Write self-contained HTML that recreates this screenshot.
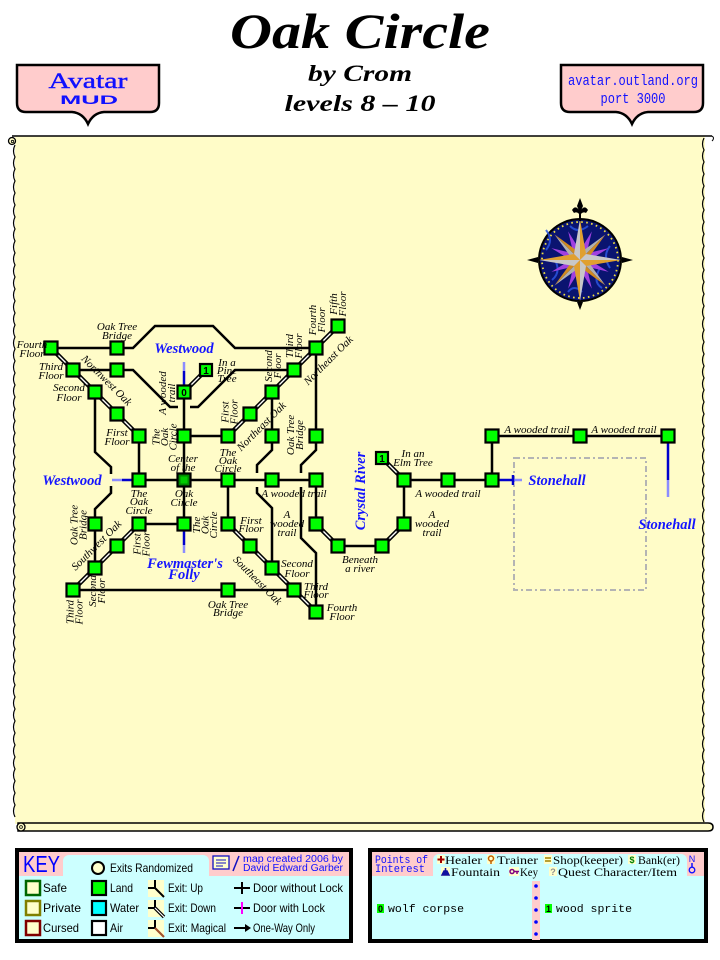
<!DOCTYPE html>
<html><head><meta charset="utf-8"><title>Oak Circle</title><style>
html,body{margin:0;padding:0;background:#fff;}
svg{display:block}
.l{font-family:"Liberation Serif",serif;font-style:italic;font-size:11px;fill:#000}
.b{font-family:"Liberation Serif",serif;font-style:italic;font-weight:bold;font-size:14.5px;fill:#1414FF}
.k{font-family:"Liberation Sans",sans-serif;font-size:12px;fill:#000}
.m{font-family:"Liberation Mono",monospace;font-size:11px;fill:#000}
</style></head><body>
<svg width="720" height="960" viewBox="0 0 720 960" xmlns="http://www.w3.org/2000/svg">
<rect x="0" y="0" width="720" height="960" fill="#fff"/>
<!-- Header -->
<text x="360" y="48" text-anchor="middle" font-family="Liberation Serif,serif" font-style="italic" font-weight="bold" font-size="50" textLength="260" lengthAdjust="spacingAndGlyphs">Oak Circle</text>
<text x="360" y="81" text-anchor="middle" font-family="Liberation Serif,serif" font-style="italic" font-weight="bold" font-size="23" textLength="104" lengthAdjust="spacingAndGlyphs">by Crom</text>
<text x="360" y="111" text-anchor="middle" font-family="Liberation Serif,serif" font-style="italic" font-weight="bold" font-size="23" textLength="151" lengthAdjust="spacingAndGlyphs">levels 8 – 10</text>

<path d="M17,65 H159 V103 Q159,112 150,112 H104 Q93,113 88,124 Q83,113 72,112 H26 Q17,112 17,103 Z" fill="#FFCCCC" stroke="#000" stroke-width="2.5"/>
<text x="88" y="88" text-anchor="middle" font-family="Liberation Serif,serif" font-size="22" fill="#1010FF" stroke="#1010FF" stroke-width="0.4" textLength="79" lengthAdjust="spacingAndGlyphs">Avatar</text>
<text x="89" y="104" text-anchor="middle" font-family="Liberation Sans,sans-serif" font-weight="bold" font-size="12" fill="#1010FF" textLength="58" lengthAdjust="spacingAndGlyphs">MUD</text>

<path d="M561,65 H703 V103 Q703,112 694,112 H648 Q637,113 632,124 Q627,113 616,112 H570 Q561,112 561,103 Z" fill="#FFCCCC" stroke="#000" stroke-width="2.5"/>
<text x="633" y="85" text-anchor="middle" font-family="Liberation Mono,monospace" font-size="15" fill="#1010FF" textLength="130" lengthAdjust="spacingAndGlyphs">avatar.outland.org</text>
<text x="633" y="103" text-anchor="middle" font-family="Liberation Mono,monospace" font-size="15" fill="#1010FF" textLength="65" lengthAdjust="spacingAndGlyphs">port 3000</text>

<!-- Parchment -->
<rect x="15" y="136" width="690" height="688" fill="#FFFCC8"/>
<path d="M12,136 H712" stroke="#000" stroke-width="1.5" fill="none"/>
<path d="M712,136 q3,2 0,5" stroke="#000" stroke-width="1" fill="none"/>
<circle cx="12" cy="141" r="3.5" fill="#FFFCC8" stroke="#000" stroke-width="1.3"/>
<circle cx="12.5" cy="141.5" r="1.2" fill="none" stroke="#000" stroke-width="0.8"/>
<path d="M15,145 q-3,6 0,12 q-3,6 0,12 q-3,6 0,12 q-3,6 0,12 q-3,6 0,12 q-3,6 0,12 q-3,6 0,12 q-3,6 0,12 q-3,6 0,12 q-3,6 0,12 q-3,6 0,12 q-3,6 0,12 q-3,6 0,12 q-3,6 0,12 q-3,6 0,12 q-3,6 0,12 q-3,6 0,12 q-3,6 0,12 q-3,6 0,12 q-3,6 0,12 q-3,6 0,12 q-3,6 0,12 q-3,6 0,12 q-3,6 0,12 q-3,6 0,12 q-3,6 0,12 q-3,6 0,12 q-3,6 0,12 q-3,6 0,12 q-3,6 0,12 q-3,6 0,12 q-3,6 0,12 q-3,6 0,12 q-3,6 0,12 q-3,6 0,12 q-3,6 0,12 q-3,6 0,12 q-3,6 0,12 q-3,6 0,12 q-3,6 0,12 q-3,6 0,12 q-3,6 0,12 q-3,6 0,12 q-3,6 0,12 q-3,6 0,12 q-3,6 0,12 q-3,6 0,12 q-3,6 0,12 q-3,6 0,12 q-3,6 0,12 q-3,6 0,12 q-3,6 0,12 q-3,6 0,12 q-3,6 0,12 q-3,6 0,12 q-3,6 0,12" stroke="#000" stroke-width="1.2" fill="none"/>
<path d="M704,138 q-3,6 0,12 q-3,6 0,12 q-3,6 0,12 q-3,6 0,12 q-3,6 0,12 q-3,6 0,12 q-3,6 0,12 q-3,6 0,12 q-3,6 0,12 q-3,6 0,12 q-3,6 0,12 q-3,6 0,12 q-3,6 0,12 q-3,6 0,12 q-3,6 0,12 q-3,6 0,12 q-3,6 0,12 q-3,6 0,12 q-3,6 0,12 q-3,6 0,12 q-3,6 0,12 q-3,6 0,12 q-3,6 0,12 q-3,6 0,12 q-3,6 0,12 q-3,6 0,12 q-3,6 0,12 q-3,6 0,12 q-3,6 0,12 q-3,6 0,12 q-3,6 0,12 q-3,6 0,12 q-3,6 0,12 q-3,6 0,12 q-3,6 0,12 q-3,6 0,12 q-3,6 0,12 q-3,6 0,12 q-3,6 0,12 q-3,6 0,12 q-3,6 0,12 q-3,6 0,12 q-3,6 0,12 q-3,6 0,12 q-3,6 0,12 q-3,6 0,12 q-3,6 0,12 q-3,6 0,12 q-3,6 0,12 q-3,6 0,12 q-3,6 0,12 q-3,6 0,12 q-3,6 0,12 q-3,6 0,12 q-3,6 0,12 q-3,6 0,12 q-3,6 0,12" stroke="#000" stroke-width="1.2" fill="none"/>
<path d="M18,823 H708 Q713,823 713,827 Q713,831 708,831 H18 Z" fill="#FFFCC8" stroke="#000" stroke-width="1.5"/>
<circle cx="21" cy="827" r="4" fill="#FFFCC8" stroke="#000" stroke-width="1.3"/>
<circle cx="21" cy="827" r="1.4" fill="none" stroke="#000" stroke-width="0.8"/>

<!-- Compass -->
<g transform="translate(580,260)">
<circle r="42" fill="#000"/>
<circle r="40" fill="#0A1470"/>
<g fill="none" stroke="#2A55E0" stroke-width="2" opacity="0.85">
<path d="M-34,-10 q8,-10 0,-20 M-28,20 q10,-8 2,-22 M30,-14 q-8,10 0,22 M22,28 q-10,-6 -2,-20 M-12,32 q6,-8 14,0 M-10,-34 q8,8 18,0"/>
</g>
<circle r="38" fill="none" stroke="#F0E040" stroke-width="1.8" stroke-dasharray="1.6 3.4"/>
<g>
<g fill="#A040E0">
<polygon points="0,-31 4,-6 0,0 -4,-6" transform="rotate(22.5)"/>
<polygon points="0,-31 4,-6 0,0 -4,-6" transform="rotate(67.5)"/>
<polygon points="0,-31 4,-6 0,0 -4,-6" transform="rotate(112.5)"/>
<polygon points="0,-31 4,-6 0,0 -4,-6" transform="rotate(157.5)"/>
<polygon points="0,-31 4,-6 0,0 -4,-6" transform="rotate(202.5)"/>
<polygon points="0,-31 4,-6 0,0 -4,-6" transform="rotate(247.5)"/>
<polygon points="0,-31 4,-6 0,0 -4,-6" transform="rotate(292.5)"/>
<polygon points="0,-31 4,-6 0,0 -4,-6" transform="rotate(337.5)"/>
</g>
<g transform="rotate(45)">
<polygon points="0,-36 -5,-5 0,0" fill="#B0B0B0"/><polygon points="0,-36 5,-5 0,0" fill="#D08A20"/>
<polygon points="0,-36 -5,-5 0,0" fill="#B0B0B0" transform="rotate(90)"/><polygon points="0,-36 5,-5 0,0" fill="#D08A20" transform="rotate(90)"/>
<polygon points="0,-36 -5,-5 0,0" fill="#B0B0B0" transform="rotate(180)"/><polygon points="0,-36 5,-5 0,0" fill="#D08A20" transform="rotate(180)"/>
<polygon points="0,-36 -5,-5 0,0" fill="#B0B0B0" transform="rotate(270)"/><polygon points="0,-36 5,-5 0,0" fill="#D08A20" transform="rotate(270)"/>
</g>
<g>
<polygon points="0,-41 -6,-6 0,0" fill="#C8C8C8"/><polygon points="0,-41 6,-6 0,0" fill="#E0A030"/>
<polygon points="0,-41 -6,-6 0,0" fill="#C8C8C8" transform="rotate(90)"/><polygon points="0,-41 6,-6 0,0" fill="#E0A030" transform="rotate(90)"/>
<polygon points="0,-41 -6,-6 0,0" fill="#C8C8C8" transform="rotate(180)"/><polygon points="0,-41 6,-6 0,0" fill="#E0A030" transform="rotate(180)"/>
<polygon points="0,-41 -6,-6 0,0" fill="#C8C8C8" transform="rotate(270)"/><polygon points="0,-41 6,-6 0,0" fill="#E0A030" transform="rotate(270)"/>
</g>
</g>
<path d="M0,-62 L3,-54 L0,-47 L-3,-54 Z M-1,-47 h2 v8 h-2 Z M-8,-50 q4,-6 8,2 q4,-8 8,-2 l-2,3 q-3,-2 -6,2 q-3,-4 -6,-2 Z" fill="#000"/>
<path d="M42,-3 L53,0 L42,3 Z M-42,-3 L-53,0 L-42,3 Z M-3,42 L0,50 L3,42 Z" fill="#000"/>
</g>

<!-- Dashed area -->
<rect x="514" y="458" width="132" height="132" fill="none" stroke="#B4B4B4" stroke-width="2" stroke-dasharray="6 3 2 3"/>

<!-- Exit stubs -->
<g stroke-width="2.5" fill="none">
<path d="M184,385 V371" stroke="#0000CC"/><path d="M184,371 V362" stroke="#8C8CFF"/>
<path d="M132,480 H122" stroke="#0000CC"/><path d="M122,480 H112" stroke="#8C8CFF"/>
<path d="M184,531 V545" stroke="#0000CC"/><path d="M184,545 V553" stroke="#8C8CFF"/>
<path d="M499,480 H513" stroke="#0000CC"/><path d="M513,480 H522" stroke="#8C8CFF"/><path d="M513,475 V485" stroke="#0000CC"/>
<path d="M668,443 V480" stroke="#0000CC"/><path d="M668,480 V497" stroke="#8C8CFF"/>
</g>

<!-- Solid connectors -->
<g fill="none" stroke="#000" stroke-width="2.5" stroke-linejoin="miter">
<path d="M51,348 H133 L155,326 H213 L235,348 H316"/>
<path d="M73,370 H133 L170,407 H178"/>
<path d="M190,407 H198 L235,370 H294"/>
<path d="M95,392 V452 L111,467 V474"/>
<path d="M111,486 V493 L95,509 V568"/>
<path d="M139,436 V480"/>
<path d="M184,392 V524"/>
<path d="M184,436 H228"/>
<path d="M272,392 V450 L257,465 V473"/>
<path d="M257,487 V493 L272,508 V568"/>
<path d="M316,348 V450 L301,465 V473"/>
<path d="M301,487 V538 L316,553 V612"/>
<path d="M139,480 H316"/>
<path d="M228,480 V524"/>
<path d="M139,524 H184"/>
<path d="M73,590 H294"/>
<path d="M316,480 V524"/>
<path d="M338,546 H382"/>
<path d="M404,524 V480 H492 V436 H668"/>
</g>

<!-- Up/Down connectors -->
<g fill="none" stroke="#000" stroke-width="4.5">
<path d="M51,348 L139,436"/>
<path d="M228,436 L338,326"/>
<path d="M184,392 L206,370"/>
<path d="M139,524 L73,590"/>
<path d="M228,524 L316,612"/>
<path d="M316,524 L338,546"/>
<path d="M382,546 L404,524"/>
<path d="M404,480 L382,458"/>
</g>
<g fill="none" stroke="#fff" stroke-width="1.4">
<path d="M51,348 L139,436"/>
<path d="M228,436 L338,326"/>
<path d="M184,392 L206,370"/>
<path d="M139,524 L73,590"/>
<path d="M228,524 L316,612"/>
<path d="M316,524 L338,546"/>
<path d="M382,546 L404,524"/>
<path d="M404,480 L382,458"/>
</g>

<!-- Nodes -->
<g fill="#00FF00" stroke="#000" stroke-width="2.2">
<rect x="44.5" y="341.5" width="13" height="13"/>
<rect x="110.5" y="341.5" width="13" height="13"/>
<rect x="66.5" y="363.5" width="13" height="13"/>
<rect x="110.5" y="363.5" width="13" height="13"/>
<rect x="88.5" y="385.5" width="13" height="13"/>
<rect x="110.5" y="407.5" width="13" height="13"/>
<rect x="132.5" y="429.5" width="13" height="13"/>
<rect x="177.5" y="429.5" width="13" height="13"/>
<rect x="221.5" y="429.5" width="13" height="13"/>
<rect x="243.5" y="407.5" width="13" height="13"/>
<rect x="265.5" y="385.5" width="13" height="13"/>
<rect x="287.5" y="363.5" width="13" height="13"/>
<rect x="309.5" y="341.5" width="13" height="13"/>
<rect x="331.5" y="319.5" width="13" height="13"/>
<rect x="265.5" y="429.5" width="13" height="13"/>
<rect x="309.5" y="429.5" width="13" height="13"/>
<rect x="132.5" y="473.5" width="13" height="13"/>
<rect x="221.5" y="473.5" width="13" height="13"/>
<rect x="265.5" y="473.5" width="13" height="13"/>
<rect x="309.5" y="473.5" width="13" height="13"/>
<rect x="88.5" y="517.5" width="13" height="13"/>
<rect x="132.5" y="517.5" width="13" height="13"/>
<rect x="177.5" y="517.5" width="13" height="13"/>
<rect x="221.5" y="517.5" width="13" height="13"/>
<rect x="309.5" y="517.5" width="13" height="13"/>
<rect x="110.5" y="539.5" width="13" height="13"/>
<rect x="243.5" y="539.5" width="13" height="13"/>
<rect x="331.5" y="539.5" width="13" height="13"/>
<rect x="375.5" y="539.5" width="13" height="13"/>
<rect x="397.5" y="517.5" width="13" height="13"/>
<rect x="88.5" y="561.5" width="13" height="13"/>
<rect x="265.5" y="561.5" width="13" height="13"/>
<rect x="66.5" y="583.5" width="13" height="13"/>
<rect x="221.5" y="583.5" width="13" height="13"/>
<rect x="287.5" y="583.5" width="13" height="13"/>
<rect x="309.5" y="605.5" width="13" height="13"/>
<rect x="397.5" y="473.5" width="13" height="13"/>
<rect x="441.5" y="473.5" width="13" height="13"/>
<rect x="485.5" y="473.5" width="13" height="13"/>
<rect x="485.5" y="429.5" width="13" height="13"/>
<rect x="573.5" y="429.5" width="13" height="13"/>
<rect x="661.5" y="429.5" width="13" height="13"/>
<rect x="177.5" y="385.5" width="13" height="13"/>
<rect x="200" y="364" width="12" height="12"/>
<rect x="376" y="452" width="12" height="12"/>
</g>
<rect x="177.5" y="473.5" width="13" height="13" fill="#008A00" stroke="#000" stroke-width="2.2"/>
<rect x="180.5" y="476.5" width="7" height="7" fill="#00CC00"/>
<g font-family="Liberation Sans,sans-serif" font-weight="bold" font-size="10" text-anchor="middle" fill="#000">
<text x="184" y="396">0</text>
<text x="206" y="374">1</text>
<text x="382" y="462">1</text>
</g>

<!-- Labels -->
<g class="l" text-anchor="middle">
<text x="32" y="348">Fourth</text><text x="32" y="357">Floor</text>
<text x="117" y="330">Oak Tree</text><text x="117" y="339">Bridge</text>
<text x="51" y="370">Third</text><text x="51" y="379">Floor</text>
<text x="69" y="391">Second</text><text x="69" y="401">Floor</text>
<text x="117" y="436">First</text><text x="117" y="445">Floor</text>
<text x="227" y="366">In a</text><text x="227" y="374">Pine</text><text x="227" y="382">Tree</text>
<text x="183" y="462">Center</text><text x="183" y="471">of the</text>
<text x="184" y="497">Oak</text><text x="184" y="506">Circle</text>
<text x="139" y="497">The</text><text x="139" y="505">Oak</text><text x="139" y="514">Circle</text>
<text x="228" y="456">The</text><text x="228" y="464">Oak</text><text x="228" y="472">Circle</text>
<text x="294" y="497">A wooded trail</text>
<text x="251" y="524">First</text><text x="251" y="532">Floor</text>
<text x="287" y="518">A</text><text x="287" y="527">wooded</text><text x="287" y="536">trail</text>
<text x="228" y="608">Oak Tree</text><text x="228" y="616">Bridge</text>
<text x="297" y="567">Second</text><text x="297" y="577">Floor</text>
<text x="316" y="590">Third</text><text x="316" y="598">Floor</text>
<text x="342" y="611">Fourth</text><text x="342" y="620">Floor</text>
<text x="360" y="563">Beneath</text><text x="360" y="572">a river</text>
<text x="413" y="457">In an</text><text x="413" y="466">Elm Tree</text>
<text x="448" y="497">A wooded trail</text>
<text x="432" y="518">A</text><text x="432" y="527">wooded</text><text x="432" y="536">trail</text>
<text x="537" y="433">A wooded trail</text>
<text x="624" y="433">A wooded trail</text>

<g transform="translate(166.5,393) rotate(-90)"><text y="-0.5">A wooded</text><text y="8.5">trail</text></g>
<g transform="translate(164,437) rotate(-90)"><text y="-4.5">The</text><text y="4">Oak</text><text y="12.5">Circle</text></g>
<g transform="translate(229,412) rotate(-90)"><text y="-0.5">First</text><text y="8.5">Floor</text></g>
<g transform="translate(272.5,366) rotate(-90)"><text y="-0.5">Second</text><text y="8.5">Floor</text></g>
<g transform="translate(293.5,346) rotate(-90)"><text y="-0.5">Third</text><text y="8.5">Floor</text></g>
<g transform="translate(316.5,320) rotate(-90)"><text y="-0.5">Fourth</text><text y="8.5">Floor</text></g>
<g transform="translate(337.5,304) rotate(-90)"><text y="-0.5">Fifth</text><text y="8.5">Floor</text></g>
<g transform="translate(294.5,435) rotate(-90)"><text y="-0.5">Oak Tree</text><text y="8.5">Bridge</text></g>
<g transform="translate(204.5,525) rotate(-90)"><text y="-4.5">The</text><text y="4">Oak</text><text y="12.5">Circle</text></g>
<g transform="translate(141,544) rotate(-90)"><text y="-0.5">First</text><text y="8.5">Floor</text></g>
<g transform="translate(78,525) rotate(-90)"><text y="-0.5">Oak Tree</text><text y="8.5">Bridge</text></g>
<g transform="translate(96.5,591) rotate(-90)"><text y="-0.5">Second</text><text y="8.5">Floor</text></g>
<g transform="translate(74,612) rotate(-90)"><text y="-0.5">Third</text><text y="8.5">Floor</text></g>

<g transform="translate(107,380) rotate(45)"><text y="4">Northwest Oak</text></g>
<g transform="translate(258,580) rotate(45)"><text y="4">Southeast Oak</text></g>
<g transform="translate(328,360) rotate(-45)"><text y="4">Northeast Oak</text></g>
<g transform="translate(261,426) rotate(-45)"><text y="4">Northeast Oak</text></g>
<g transform="translate(96,545) rotate(-45)"><text y="4">Southwest Oak</text></g>
</g>

<g class="b" text-anchor="middle">
<text x="184" y="353">Westwood</text>
<text x="72" y="485">Westwood</text>
<text x="185" y="568">Fewmaster's</text>
<text x="184" y="579">Folly</text>
<g transform="translate(360,491) rotate(-90)"><text y="5">Crystal River</text></g>
<text x="557" y="485">Stonehall</text>
<text x="667" y="529">Stonehall</text>
</g>

<!-- KEY panel -->
<rect x="17" y="850" width="334" height="91" fill="#CCFFFF" stroke="#000" stroke-width="4"/>
<rect x="19" y="852" width="330" height="24" fill="#FFCCCC"/>
<rect x="63" y="855" width="146" height="30" rx="6" fill="#CCFFFF"/>
<text x="23" y="872" font-family="Liberation Sans,sans-serif" font-size="23" fill="#0000FF" textLength="37" lengthAdjust="spacingAndGlyphs">KEY</text>
<circle cx="98" cy="868" r="6" fill="#FFFFCC" stroke="#000" stroke-width="2"/>
<text class="k" x="110" y="872" textLength="83" lengthAdjust="spacingAndGlyphs">Exits Randomized</text>
<rect x="213" y="856" width="16" height="13" fill="#FFFFCC" stroke="#1010C0" stroke-width="1.3"/>
<path d="M216,860 h10 M216,863 h10 M216,866 h7" stroke="#1010C0" stroke-width="1"/>
<path d="M233,871 L239,856" stroke="#1010C0" stroke-width="1.5"/>
<text class="k" x="243" y="862" style="fill:#1010FF;font-size:10px" textLength="100" lengthAdjust="spacingAndGlyphs">map created 2006 by</text>
<text class="k" x="243" y="871" style="fill:#1010FF;font-size:10px" textLength="100" lengthAdjust="spacingAndGlyphs">David Edward Garber</text>

<rect x="26" y="881" width="14" height="14" fill="#FFFFCC" stroke="#006600" stroke-width="2.5"/>
<rect x="26" y="901" width="14" height="14" fill="#FFFFCC" stroke="#808000" stroke-width="2.5"/>
<rect x="26" y="921" width="14" height="14" fill="#FFFFCC" stroke="#800000" stroke-width="2.5"/>
<text class="k" x="43" y="892" textLength="24" lengthAdjust="spacingAndGlyphs">Safe</text>
<text class="k" x="43" y="912" textLength="38" lengthAdjust="spacingAndGlyphs">Private</text>
<text class="k" x="43" y="932" textLength="36" lengthAdjust="spacingAndGlyphs">Cursed</text>

<rect x="92" y="881" width="14" height="14" fill="#00FF00" stroke="#000" stroke-width="2.2"/>
<rect x="92" y="901" width="14" height="14" fill="#00FFFF" stroke="#000" stroke-width="2.2"/>
<rect x="92" y="921" width="14" height="14" fill="#FFFFFF" stroke="#000" stroke-width="2.2"/>
<text class="k" x="110" y="892" textLength="23" lengthAdjust="spacingAndGlyphs">Land</text>
<text class="k" x="110" y="912" textLength="29" lengthAdjust="spacingAndGlyphs">Water</text>
<text class="k" x="110" y="932" textLength="13" lengthAdjust="spacingAndGlyphs">Air</text>

<rect x="148" y="880" width="16" height="17" fill="#FFFFCC"/>
<rect x="148" y="900" width="16" height="17" fill="#FFFFCC"/>
<rect x="148" y="920" width="16" height="17" fill="#FFFFCC"/>
<g fill="none" stroke="#000" stroke-width="2">
<path d="M155,880 V888 H148"/><path d="M155,900 V908 H148"/><path d="M155,920 V928 H148"/>
<path d="M155,888 L164,897"/>
<path d="M155,908 L164,917" stroke-width="3.5"/>
</g>
<path d="M155,908 L164,917" stroke="#fff" stroke-width="1.2"/>
<path d="M155,928 L164,937" stroke="#A0522D" stroke-width="2.2"/>
<text class="k" x="168" y="892" textLength="35" lengthAdjust="spacingAndGlyphs">Exit: Up</text>
<text class="k" x="168" y="912" textLength="48" lengthAdjust="spacingAndGlyphs">Exit: Down</text>
<text class="k" x="168" y="932" textLength="58" lengthAdjust="spacingAndGlyphs">Exit: Magical</text>

<g stroke-width="2" fill="none">
<path d="M234,888 H250 M242,882 V894" stroke="#000"/>
<path d="M234,908 H250" stroke="#000"/><path d="M242,902 V914" stroke="#FF00FF"/>
<path d="M234,928 H248" stroke="#000"/>
</g>
<path d="M251,928 L245,924 L245,932 Z" fill="#000"/>
<text class="k" x="253" y="892" textLength="90" lengthAdjust="spacingAndGlyphs">Door without Lock</text>
<text class="k" x="253" y="912" textLength="72" lengthAdjust="spacingAndGlyphs">Door with Lock</text>
<text class="k" x="253" y="932" textLength="62" lengthAdjust="spacingAndGlyphs">One-Way Only</text>

<!-- POI panel -->
<rect x="370" y="850" width="336" height="91" fill="#CCFFFF" stroke="#000" stroke-width="4"/>
<rect x="372" y="852" width="332" height="24" fill="#FFCCCC"/>
<rect x="433" y="854" width="254" height="30" rx="6" fill="#CCFFFF"/>
<text class="m" x="375" y="863" style="fill:#1010FF" font-size="10.5" textLength="53" lengthAdjust="spacingAndGlyphs">Points of</text>
<text class="m" x="375" y="872" style="fill:#1010FF" font-size="10.5" textLength="50" lengthAdjust="spacingAndGlyphs">Interest</text>
<text x="692" y="862" text-anchor="middle" font-family="Liberation Sans,sans-serif" font-size="9" fill="#1010FF">N</text>
<circle cx="692" cy="870" r="2.8" fill="none" stroke="#1010FF" stroke-width="1.3"/>
<path d="M692,863 V867" stroke="#1010FF" stroke-width="1.5"/>

<g font-family="Liberation Serif,serif" font-size="11.5">
<rect x="437" y="855" width="8" height="9" fill="#FFFFCC"/>
<path d="M441,856 V863 M437.5,859.5 H444.5" stroke="#A00000" stroke-width="2"/>
<text x="445" y="864" textLength="37" lengthAdjust="spacingAndGlyphs">Healer</text>
<rect x="487" y="855" width="8" height="9" fill="#FFFFCC"/>
<circle cx="491" cy="858.5" r="2.5" fill="none" stroke="#C06000" stroke-width="1.5"/><path d="M491,861 V864" stroke="#C06000" stroke-width="1.5"/>
<text x="497" y="864" textLength="41" lengthAdjust="spacingAndGlyphs">Trainer</text>
<rect x="544" y="855" width="8" height="9" fill="#FFFFCC"/>
<path d="M545,858 H551 M545,861 H551" stroke="#A08000" stroke-width="1.5"/>
<text x="553" y="864" textLength="70" lengthAdjust="spacingAndGlyphs">Shop(keeper)</text>
<rect x="628" y="855" width="8" height="9" fill="#FFFFCC"/>
<text x="632" y="863" text-anchor="middle" font-family="Liberation Sans,sans-serif" font-weight="bold" font-size="9" fill="#008000">$</text>
<text x="638" y="864" textLength="42" lengthAdjust="spacingAndGlyphs">Bank(er)</text>
<rect x="441" y="867" width="9" height="9" fill="#FFFFCC"/>
<path d="M442,875 H449 L447,871 H444 Z M445.5,871 V868" stroke="#1010A0" stroke-width="1.5" fill="#1010A0"/>
<text x="451" y="876" textLength="49" lengthAdjust="spacingAndGlyphs">Fountain</text>
<rect x="509" y="867" width="10" height="9" fill="#FFFFCC"/>
<circle cx="512" cy="871.5" r="2" fill="none" stroke="#800080" stroke-width="1.5"/><path d="M514,871.5 H519 M517,871.5 V874" stroke="#800080" stroke-width="1.5"/>
<text x="520" y="876" textLength="18" lengthAdjust="spacingAndGlyphs">Key</text>
<rect x="549" y="867" width="8" height="9" fill="#FFFFCC"/>
<text x="553" y="875" text-anchor="middle" font-family="Liberation Sans,sans-serif" font-weight="bold" font-size="9" fill="#909090">?</text>
<text x="558" y="876" textLength="119" lengthAdjust="spacingAndGlyphs">Quest Character/Item</text>
</g>

<rect x="532" y="881" width="8" height="59" fill="#FFCCCC"/>
<g fill="#0000FF">
<circle cx="536" cy="886" r="1.8"/><circle cx="536" cy="898" r="1.8"/><circle cx="536" cy="910" r="1.8"/><circle cx="536" cy="922" r="1.8"/><circle cx="536" cy="934" r="1.8"/>
</g>
<rect x="377" y="904" width="7" height="9" fill="#00FF00"/>
<text x="380.5" y="912" text-anchor="middle" font-family="Liberation Sans,sans-serif" font-weight="bold" font-size="9">0</text>
<text class="m" x="388" y="912" font-size="12" textLength="76" lengthAdjust="spacingAndGlyphs">wolf corpse</text>
<rect x="545" y="904" width="7" height="9" fill="#00FF00"/>
<text x="548.5" y="912" text-anchor="middle" font-family="Liberation Sans,sans-serif" font-weight="bold" font-size="9">1</text>
<text class="m" x="556" y="912" font-size="12" textLength="76" lengthAdjust="spacingAndGlyphs">wood sprite</text>
</svg>
</body></html>
